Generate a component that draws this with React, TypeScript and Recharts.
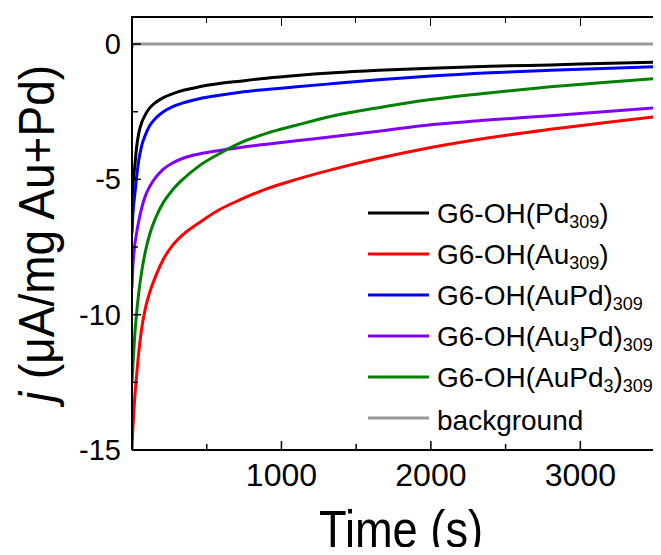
import { LineChart, Line, XAxis, YAxis } from 'recharts'

// chronoamperometry, time in s, current density in µA/mg
const TIME = [0, 2, 5, 10, 18, 30, 45, 65, 90, 120, 160, 210, 270, 350, 450, 575, 725, 900, 1100, 1350, 1650, 2000, 2400, 2800, 3200, 3600]
const PD = [-6.5, -6.0, -5.4, -4.95, -4.55, -3.85, -3.3, -2.9, -2.6, -2.35, -2.15, -1.98, -1.84, -1.7, -1.58, -1.47, -1.37, -1.26, -1.16, -1.06, -0.97, -0.89, -0.82, -0.77, -0.71, -0.66]
const AU = [-15.0, -14.7, -14.3, -13.8, -13.1, -12.3, -11.4, -10.5, -9.75, -9.15, -8.55, -7.95, -7.45, -7.0, -6.6, -6.15, -5.75, -5.35, -5.0, -4.62, -4.22, -3.82, -3.45, -3.15, -2.88, -2.62]
const AUPD = [-7.0, -6.8, -6.4, -6.0, -5.6, -4.95, -4.3, -3.75, -3.35, -3.0, -2.73, -2.5, -2.32, -2.16, -2.02, -1.9, -1.78, -1.68, -1.58, -1.46, -1.32, -1.18, -1.06, -0.97, -0.89, -0.82]
const AU3PD = [-9.0, -8.7, -8.3, -7.9, -7.45, -7.0, -6.55, -6.05, -5.6, -5.25, -4.92, -4.62, -4.4, -4.2, -4.06, -3.94, -3.82, -3.7, -3.57, -3.42, -3.22, -2.98, -2.8, -2.65, -2.48, -2.32]
const AUPD3 = [-12.5, -12.3, -12.0, -11.5, -10.8, -10.0, -9.2, -8.4, -7.65, -7.0, -6.4, -5.85, -5.4, -4.95, -4.5, -4.08, -3.65, -3.3, -3.0, -2.65, -2.35, -2.05, -1.8, -1.58, -1.4, -1.24]
const BACKGROUND = [-0.15, -0.08, -0.03, -0.01, 0, 0, 0, 0, 0, 0, 0, 0, 0, 0, 0, 0, 0, 0, 0, 0, 0, 0, 0, 0, 0, 0]

const KEYS = ['pd', 'au', 'aupd', 'au3pd', 'aupd3', 'bg']
const SERIES = [PD, AU, AUPD, AU3PD, AUPD3, BACKGROUND]
const NAMES = ['G6-OH(Pd_{309})', 'G6-OH(Au_{309})', 'G6-OH(AuPd)_{309}', 'G6-OH(Au_{3}Pd)_{309}', 'G6-OH(AuPd_{3})_{309}', 'background']
const COLORS = ['#000000', '#ff0000', '#0000ff', '#8000ff', '#008000', '#999999']

const X_MAX = 3600
const X_TICKS = [500, 1000, 1500, 2000, 2500, 3000, 3500]
const Y_TICKS = [-15, -12.5, -10, -7.5, -5, -2.5, 0]
const Y_MAX = 1

// chart box
const CHART_W = 680
const CHART_H = 555
const TOP_PAD = 17
const RIGHT_PAD = 10
const Y_AXIS_W = 132
const X_AXIS_H = 105
const PLOT_W = CHART_W - RIGHT_PAD - Y_AXIS_W

const FONT = '"Liberation Sans", Arial, Helvetica, sans-serif'

const data = TIME.map((t, i) => {
  const row: Record<string, number> = { t }
  KEYS.forEach((k, j) => {
    row[k] = SERIES[j][i]
  })
  return row
})

function BottomTick(props: any) {
  const { x, y, payload } = props
  const major = payload.value % 1000 === 0
  return (
    <g>
      <line x1={x} y1={y} x2={x} y2={y - (major ? 9 : 6)} stroke="#000" strokeWidth={1.5} />
      {major && (
        <text x={x} y={y + 36} textAnchor="middle" fontSize={32} fontFamily={FONT} fill="#000">
          {payload.value}
        </text>
      )}
    </g>
  )
}

function LeftTick(props: any) {
  const { x, y, payload } = props
  const major = payload.value % 5 === 0
  return (
    <g>
      <line x1={x} y1={y} x2={x + (major ? 9 : 6)} y2={y} stroke="#000" strokeWidth={1.5} />
      {major && (
        <text x={x - 11} y={y + 10} textAnchor="end" fontSize={29} fontFamily={FONT} fill="#000">
          {payload.value}
        </text>
      )}
    </g>
  )
}

// titles look narrow in the original, so squeeze them a bit horizontally
function XTitle(props: any) {
  const vb = props.viewBox
  const cx = vb.x + vb.width / 2
  const by = vb.y + vb.height - 8
  return (
    <text
      transform={`translate(${cx} ${by}) scale(0.87 1)`}
      x={0}
      y={0}
      textAnchor="middle"
      fontSize={52}
      fontFamily={FONT}
      fill="#000"
    >
      Time (s)
    </text>
  )
}

function YTitle(props: any) {
  const vb = props.viewBox
  const cx = 54
  const cy = vb.y + vb.height / 2
  return (
    <text
      transform={`translate(${cx} ${cy}) rotate(-90) scale(0.92 1)`}
      x={0}
      y={0}
      textAnchor="middle"
      fontSize={50}
      fontFamily={FONT}
      fill="#000"
    >
      <tspan fontStyle="italic">j</tspan> (μA/mg Au+Pd)
    </text>
  )
}

// top edge of the frame with inward ticks
function TopFrame() {
  return (
    <div style={{ position: 'absolute', left: 0, top: 0, width: CHART_W, height: TOP_PAD + 12, zIndex: 5, pointerEvents: 'none' }}>
      <div
        style={{
          position: 'absolute',
          left: Y_AXIS_W - 1,
          top: TOP_PAD - 1,
          width: PLOT_W + 1,
          height: 0,
          borderTop: '2px solid #000',
        }}
      />
      {X_TICKS.map((v) => (
        <div
          key={v}
          style={{
            position: 'absolute',
            left: Y_AXIS_W + (v / X_MAX) * PLOT_W - 0.75,
            top: TOP_PAD,
            width: 0,
            height: v % 1000 === 0 ? 9 : 6,
            borderLeft: '1.5px solid #000',
          }}
        />
      ))}
    </div>
  )
}

function renderName(name: string) {
  const parts = name.split(/_\{(.*?)\}/)
  return parts.map((p, i) =>
    i % 2 === 1 ? (
      <span key={i} style={{ fontSize: 18, position: 'relative', top: 5 }}>
        {p}
      </span>
    ) : (
      <span key={i}>{p}</span>
    )
  )
}

// legend sits inside the plot, lower right
function ChartLegend() {
  return (
    <div style={{ position: 'absolute', left: 368, top: 192, fontFamily: FONT, color: '#000' }}>
      {NAMES.map((name, i) => (
        <div key={name} style={{ display: 'flex', alignItems: 'center', height: 41 }}>
          <svg width={61} height={4} style={{ marginRight: 8 }}>
            <line x1={0} y1={2} x2={61} y2={2} stroke={COLORS[i]} strokeWidth={3} />
          </svg>
          <span style={{ fontSize: 28, lineHeight: '28px', whiteSpace: 'nowrap', position: 'relative', top: 3 }}>
            {renderName(name)}
          </span>
        </div>
      ))}
    </div>
  )
}

export default function App() {
  return (
    <div style={{ margin: -8, width: 661, height: 555, overflow: 'hidden', background: '#fff', position: 'relative' }}>
      <LineChart
        width={CHART_W}
        height={CHART_H}
        data={data}
        margin={{ top: TOP_PAD, right: RIGHT_PAD, bottom: 0, left: 0 }}
      >
        <XAxis
          dataKey="t"
          type="number"
          domain={[0, X_MAX]}
          allowDataOverflow
          ticks={X_TICKS}
          interval={0}
          height={X_AXIS_H}
          tickSize={0}
          tickMargin={0}
          tickLine={false}
          tick={BottomTick}
          axisLine={{ stroke: '#000', strokeWidth: 2 }}
          label={XTitle}
        />
        <YAxis
          type="number"
          domain={[-15, Y_MAX]}
          allowDataOverflow
          ticks={Y_TICKS}
          interval={0}
          width={Y_AXIS_W}
          tickSize={0}
          tickMargin={0}
          tickLine={false}
          tick={LeftTick}
          axisLine={{ stroke: '#000', strokeWidth: 2 }}
          label={YTitle}
        />
        {KEYS.map((k, i) => (
          <Line
            key={k}
            type="monotone"
            dataKey={k}
            name={NAMES[i]}
            stroke={COLORS[i]}
            strokeWidth={3}
            dot={false}
            activeDot={false}
            isAnimationActive={false}
          />
        ))}
      </LineChart>
      <TopFrame />
      <ChartLegend />
    </div>
  )
}
